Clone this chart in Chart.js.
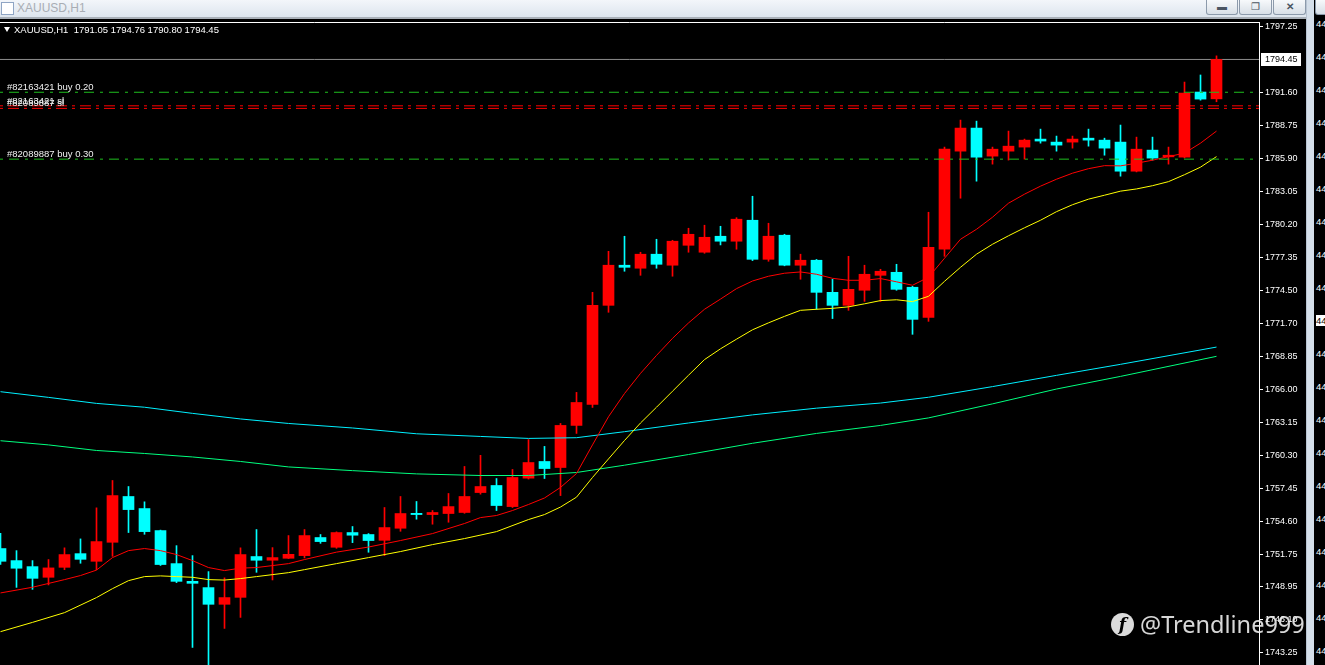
<!DOCTYPE html>
<html>
<head>
<meta charset="utf-8">
<script src="https://cdn.jsdelivr.net/npm/chart.js@4.4.1/dist/chart.umd.min.js"></script>
<style>
body{margin:0;width:1325px;height:665px;overflow:hidden;background:#000;position:relative;font-family:"Liberation Sans",sans-serif}
#titlebar{position:absolute;left:0;top:0;width:1306px;height:17px;background:linear-gradient(#f3f6fa,#dde5ee);border-bottom:2px solid #a9b0b8}
#titlebar .name{position:absolute;left:17px;top:1px;font-size:12px;color:#a8adb4}
#titlebar .icon{position:absolute;left:1px;top:2px;width:11px;height:11px;border:1px solid #8fa5c4;background:#fff}
.btn{position:absolute;top:0;height:14px;border:1px solid #8c9aab;border-top:none;border-radius:0 0 3px 3px;background:linear-gradient(#f7f9fb,#d8dfe7);font-size:10px;color:#4a5562;text-align:center;line-height:13px}
#sep{position:absolute;left:1306px;top:0;width:7px;height:665px;background:#d5dfea;border-left:1px solid #b8c4d2}
#chartbox{position:absolute;left:0;top:22px;width:1306px;height:643px}
#header{position:absolute;left:4px;top:24px;font-size:9.5px;color:#fff;white-space:pre}
#header .tri{display:inline-block;width:0;height:0;border-left:3.5px solid transparent;border-right:3.5px solid transparent;border-top:5px solid #fff;margin-right:4px;vertical-align:1px}
.p44{position:absolute;left:1316px;font-size:9.5px;color:#fff}
#mark{position:absolute;left:1140px;top:608px;font-family:"Noto Sans",sans-serif;font-size:23.5px;color:rgba(238,238,238,0.9)}
#logo{position:absolute;left:1111px;top:613px;width:23px;height:23px;border-radius:50%;background:rgba(238,238,238,0.92);color:#000;font:bold 17px "DejaVu Serif",serif;text-align:center;line-height:23px;font-style:italic}
</style>
</head>
<body>
<div id="titlebar"><div class="icon"></div><div class="name">XAUUSD,H1</div></div>
<div class="btn" style="left:1206px;width:30px">&#9644;</div>
<div class="btn" style="left:1239px;width:31px">&#10064;</div>
<div class="btn" style="left:1273px;width:31px;font-weight:bold">&#10005;</div>
<div id="sep"></div>
<div class="btn" style="left:1315px;width:14px"></div>
<div id="chartbox"><canvas id="chart" width="1306" height="643"></canvas></div>
<div id="header"></div>
<div id="panel"></div>
<div id="logo">f</div>
<div id="mark">@Trendline999</div>

<script>
const symbol = "XAUUSD,H1"

const open = [1752.26,1751.22,1750.70,1749.78,1750.64,1751.82,1751.16,1752.80,1756.75,1755.71,
    1753.81,1750.96,1749.43,1748.89,1747.45,1748.05,1751.57,1751.25,1751.42,1751.65,
    1753.21,1752.37,1753.64,1753.47,1752.97,1754.01,1755.30,1755.19,1755.28,1755.37,
    1757.09,1757.70,1755.88,1758.33,1759.77,1759.25,1762.88,1764.69,1773.24,1776.70,
    1776.44,1777.65,1776.70,1778.42,1777.82,1779.20,1778.77,1780.58,1777.21,1779.29,
    1776.70,1777.13,1774.36,1773.24,1774.54,1775.83,1776.09,1774.80,1772.20,1778.08,
    1786.54,1788.53,1786.11,1786.54,1786.89,1787.58,1787.32,1787.32,1787.66,1787.49,
    1787.32,1784.81,1786.63,1786.05,1786.02,1791.64,1791.05]
const high = [1753.58,1752.08,1751.22,1751.31,1752.32,1753.09,1755.77,1758.13,1757.61,1756.29,
    1753.85,1752.51,1751.65,1750.27,1749.73,1752.32,1753.90,1752.34,1753.38,1753.90,
    1753.47,1753.70,1754.16,1753.55,1755.80,1756.75,1756.32,1755.54,1757.01,1759.34,
    1760.30,1758.30,1759.08,1761.66,1761.07,1763.05,1765.73,1774.36,1777.90,1779.20,
    1777.82,1778.94,1778.85,1779.89,1780.15,1780.06,1780.80,1782.65,1780.32,1779.37,
    1777.65,1777.20,1775.49,1777.47,1776.70,1776.35,1776.78,1774.88,1781.27,1786.89,
    1789.22,1789.13,1786.89,1788.27,1787.58,1788.44,1787.84,1787.84,1788.44,1787.66,
    1788.79,1787.75,1787.75,1786.89,1792.50,1793.11,1794.76]
const low = [1750.90,1748.91,1748.74,1749.12,1750.44,1750.99,1750.44,1751.59,1753.64,1753.49,
    1750.80,1749.32,1743.73,1741.90,1745.37,1746.32,1750.21,1749.55,1751.40,1751.45,
    1752.71,1752.28,1752.77,1751.94,1751.65,1753.75,1754.79,1754.36,1754.53,1755.30,
    1756.95,1755.54,1755.80,1758.25,1758.30,1756.83,1762.19,1764.43,1772.64,1776.18,
    1775.83,1776.44,1775.75,1777.82,1777.73,1778.45,1778.08,1777.10,1777.04,1776.65,
    1775.49,1772.90,1772.10,1772.81,1773.58,1773.58,1774.54,1770.74,1771.86,1777.47,
    1782.48,1783.95,1785.42,1785.77,1785.85,1787.23,1786.54,1786.80,1786.97,1786.19,
    1784.38,1784.75,1785.77,1785.42,1785.95,1790.94,1790.80]
const close = [1751.16,1750.56,1749.69,1750.59,1751.74,1751.33,1752.86,1756.83,1755.62,1753.72,
    1750.88,1749.43,1749.26,1747.45,1748.03,1751.74,1751.25,1751.48,1751.76,1753.38,
    1752.86,1753.64,1753.41,1752.95,1754.07,1755.28,1755.19,1755.37,1755.88,1756.75,
    1757.61,1755.97,1758.39,1759.68,1759.16,1762.88,1764.86,1773.24,1776.70,1776.52,
    1777.65,1776.78,1778.77,1779.37,1779.11,1778.77,1780.67,1777.21,1779.20,1776.70,
    1777.13,1774.36,1773.24,1774.62,1775.92,1776.18,1774.62,1772.03,1778.25,1786.71,
    1788.53,1786.02,1786.71,1786.97,1787.49,1787.41,1787.06,1787.58,1787.49,1786.80,
    1784.81,1786.71,1785.94,1786.19,1791.55,1791.03,1794.45]

// fast (red) and slow (yellow) moving averages, read per bar (null = not read)
const maRed = [1748.43,null,1748.92,null,1749.58,1749.93,1750.40,1751.48,1752.08,1752.26,
    1752.08,1751.74,1751.22,1750.62,1750.36,1750.57,1750.62,1750.79,1750.96,1751.31,
    null,1751.95,null,1752.39,null,1752.95,null,1753.55,null,1754.42,
    1754.93,1755.11,1755.54,1756.06,1756.62,1757.53,1758.73,1761.20,1763.63,1765.63,
    1767.37,1768.92,1770.39,1771.72,1772.90,1773.78,1774.68,1775.34,1775.75,1776.01,
    1776.12,1775.92,1775.57,1775.40,1775.40,1775.55,1775.27,1774.97,1775.66,1777.30,
    1778.94,1779.80,1780.84,1782.05,1782.83,1783.52,1784.12,1784.64,1785.03,1785.29,
    1785.27,1785.50,1785.76,1786.07,1786.37,1787.23,1788.27]
const maYellow = [1745.09,null,1745.89,null,1746.73,null,1748.03,1748.80,1749.49,1749.84,
    1749.90,1749.84,1749.78,1749.58,1749.54,1749.67,1749.84,1750.01,1750.18,1750.44,
    null,1750.96,null,1751.48,null,1752.00,null,1752.60,null,1753.12,
    null,1753.72,null,1754.76,1755.19,1755.84,1756.69,1758.39,1759.99,1761.58,
    1763.09,1764.45,1765.83,1767.21,1768.56,1769.49,1770.32,1771.13,1771.73,1772.29,
    1772.81,1772.90,1772.98,1773.11,1773.37,1773.65,1773.72,1773.56,1774.02,1775.31,
    1776.52,1777.65,1778.51,1779.24,1779.93,1780.58,1781.32,1781.92,1782.40,1782.74,
    1783.09,1783.28,1783.56,1783.91,1784.51,1785.16,1786.07]

// long averages, read at these bars
const longBars = [0,3,6,9,12,15,18,22,26,30,33,36,39,43,47,51,55,58,62,66,70,76]
const maCyan = [1765.79,1765.30,1764.78,1764.45,1763.92,1763.44,1763.05,1762.66,1762.16,1761.93,1761.76,
    1761.82,1762.34,1763.09,1763.79,1764.37,1764.81,1765.31,1766.23,1767.20,1768.15,1769.64]
const maGreen = [1761.56,1761.20,1760.72,1760.46,1760.16,1759.77,1759.30,1758.98,1758.70,1758.56,1758.56,
    1758.82,1759.45,1760.37,1761.34,1762.19,1762.88,1763.53,1764.74,1766.02,1767.11,1768.84]

const orderLabels = ["#82163421 buy 0.20", "#82163421 sl", "#82089887 sl", "#82089887 buy 0.30"]
const orderPrices = [1791.62, 1790.45, 1790.23, 1785.85]
const orderColors = ["#1fbf1f", "#ff0000", "#ff0000", "#1fbf1f"]

const yTicks = [1797.25,1791.60,1788.75,1785.90,1783.05,1780.20,1777.35,1774.50,1771.70,1768.85,
    1766.00,1763.15,1760.30,1757.45,1754.60,1751.75,1748.95,1746.10,1743.25]

const xMin = -0.031
const xMax = 78.656
const lastIdx = close.length - 1

document.getElementById("header").innerHTML =
    '<span class="tri"></span>' + symbol + '  ' +
    [open[lastIdx], high[lastIdx], low[lastIdx], close[lastIdx]].map(v => v.toFixed(2)).join(' ')

const panel = document.getElementById("panel")
for(let k = 0; k < 20; k++){
    const d = document.createElement("div")
    d.className = "p44"
    d.style.top = (18 + k * 33) + "px"
    d.textContent = "44"
    if(k == 9){ d.style.background = "#fff"; d.style.color = "#000" }
    panel.appendChild(d)
}

const candleColors = open.map((o, k) => close[k] >= o ? "#ff0000" : "#00ffff")
const bodies = open.map((o, k) => ({x: k, y: [o, close[k]]}))
const wicks = low.map((l, k) => ({x: k, y: [l, high[k]]}))
const asPoints = arr => arr.map((v, k) => v == null ? null : {x: k, y: v}).filter(p => p)
const flat = v => [{x: xMin - 1, y: v}, {x: xMax + 1, y: v}]

const datasets = [
    {type: "bar", data: wicks, backgroundColor: candleColors, barThickness: 1, grouped: false, order: 5},
    {type: "bar", data: bodies, backgroundColor: candleColors, barThickness: 11, minBarLength: 1, grouped: false, order: 4},
    {type: "line", data: longBars.map((b, k) => ({x: b, y: maCyan[k]})), borderColor: "#00f0ff", borderWidth: 1, pointRadius: 0, order: 3},
    {type: "line", data: longBars.map((b, k) => ({x: b, y: maGreen[k]})), borderColor: "#00ff7f", borderWidth: 1, pointRadius: 0, order: 3},
    {type: "line", data: asPoints(maRed), borderColor: "#ff0000", borderWidth: 1, pointRadius: 0, order: 2},
    {type: "line", data: asPoints(maYellow), borderColor: "#ffff00", borderWidth: 1, pointRadius: 0, order: 2},
    {type: "line", data: flat(close[lastIdx]), borderColor: "#8c8c8c", borderWidth: 1, pointRadius: 0, order: 6}
]
orderPrices.forEach((p, k) => {
    datasets.push({type: "line", data: flat(p), borderColor: orderColors[k], borderWidth: 1,
        borderDash: orderColors[k] == "#ff0000" ? [11, 5, 3, 5] : [10, 6, 3, 6], pointRadius: 0, order: 1})
})

const overlay = {
    id: "overlay",
    afterDraw(chart){
        const {ctx, chartArea, scales} = chart
        const y = scales.y
        ctx.save()
        ctx.strokeStyle = "#fff"
        ctx.lineWidth = 1
        ctx.beginPath()
        ctx.moveTo(0, chartArea.top + 0.5)
        ctx.lineTo(chartArea.right, chartArea.top + 0.5)
        ctx.stroke()

        ctx.font = '9.5px "Liberation Sans"'
        ctx.fillStyle = "#f0f0f0"
        ctx.textBaseline = "alphabetic"
        orderPrices.forEach((p, k) => {
            ctx.fillText(orderLabels[k], 7, Math.round(y.getPixelForValue(p)) - 2)
        })

        const py = Math.round(y.getPixelForValue(close[lastIdx]))
        ctx.fillStyle = "#fff"
        ctx.fillRect(chartArea.right + 2, py - 6, 40, 13)
        ctx.fillStyle = "#000"
        ctx.font = '9px "Liberation Sans"'
        ctx.textBaseline = "middle"
        ctx.fillText(close[lastIdx].toFixed(2), chartArea.right + 6, py + 1)
        ctx.restore()
    }
}

new Chart(document.getElementById("chart"), {
    type: "bar",
    data: {datasets: datasets},
    options: {
        responsive: false,
        animation: false,
        devicePixelRatio: 1,
        layout: {padding: 0},
        plugins: {legend: {display: false}, tooltip: {enabled: false}},
        scales: {
            x: {
                type: "linear",
                min: xMin,
                max: xMax,
                offset: false,
                display: false
            },
            y: {
                position: "right",
                min: 1742.214,
                max: 1797.681,
                afterBuildTicks: s => { s.ticks = yTicks.map(v => ({value: v})) },
                afterFit: s => { s.width = 47; s.paddingTop = 0; s.paddingBottom = 0 },
                grid: {drawOnChartArea: false, drawTicks: true, tickLength: 4, color: "#fff"},
                border: {display: true, color: "#fff"},
                ticks: {
                    color: "#fff",
                    padding: 2,
                    font: {family: "Liberation Sans", size: 9},
                    callback: v => Number(v).toFixed(2)
                }
            }
        }
    },
    plugins: [overlay]
})
</script>
</body>
</html>
